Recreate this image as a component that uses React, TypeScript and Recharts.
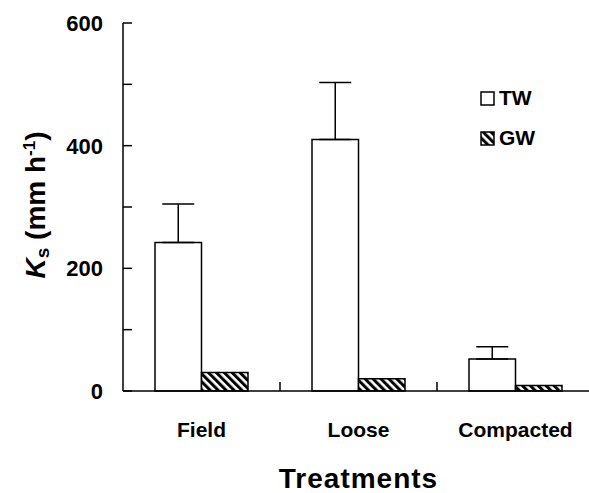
import { BarChart, Bar, XAxis, YAxis, ErrorBar, Label } from "recharts";

const categories = ["Field", "Loose", "Compacted"];
const twValues = [242, 410, 52];
const twErrors = [63, 93, 20];
const gwValues = [30, 20, 9];
const yTicks = [0, 100, 200, 300, 400, 500, 600];
const yLabelled = [0, 200, 400, 600];
const legendItems = [
  { label: "TW", fill: "#fff" },
  { label: "GW", fill: "url(#hatch)" },
];

const data = categories.map((name, i) => ({
  name,
  tw: twValues[i],
  twErr: [0, twErrors[i]],
  gw: gwValues[i],
}));

const FONT = "'Liberation Sans', Arial, sans-serif";

function XTick(props: any) {
  const { x, y, payload, index } = props;
  const half = payload && payload.offset != null ? payload.offset : 78.5;
  return (
    <g>
      {index > 0 && (
        <line x1={x - half} x2={x - half} y1={y} y2={y - 9} stroke="#000" strokeWidth={1.5} />
      )}
      <text x={x} y={y + 46} textAnchor="middle" fontFamily={FONT} fontWeight="bold" fontSize={21} fill="#000">
        {payload.value}
      </text>
    </g>
  );
}

function YTick(props: any) {
  const { x, y, payload } = props;
  return (
    <g>
      <line x1={x} x2={x + 9} y1={y} y2={y} stroke="#000" strokeWidth={1.5} />
      {yLabelled.includes(payload.value) && (
        <text x={x - 20} y={y} dy="0.36em" textAnchor="end" fontFamily={FONT} fontWeight="bold" fontSize={22} fill="#000">
          {payload.value}
        </text>
      )}
    </g>
  );
}

function YTitle() {
  const cx = 35;
  const cy = 205;
  return (
    <text x={cx} y={cy} transform={`rotate(-90, ${cx}, ${cy})`} textAnchor="middle" dy="0.36em"
      fontFamily={FONT} fontWeight="bold" fontSize={28} fill="#000">
      <tspan fontStyle="italic">K</tspan>
      <tspan fontSize={19} dy={4}>s</tspan>
      <tspan dy={-4}> (mm h</tspan>
      <tspan fontSize={17} dy={-10}>-1</tspan>
      <tspan dy={10}>)</tspan>
    </text>
  );
}

function XTitle(props: any) {
  const { viewBox } = props;
  return (
    <text x={viewBox.x + viewBox.width / 2} y={viewBox.y + 97} textAnchor="middle"
      fontFamily={FONT} fontWeight="bold" fontSize={28} letterSpacing={1} fill="#000">
      Treatments
    </text>
  );
}

function LegendBox() {
  return (
    <div style={{ position: "absolute", left: 480, top: 78 }}>
      {legendItems.map((it) => (
        <div key={it.label} style={{ display: "flex", alignItems: "center", height: 40 }}>
          <svg width={15} height={15} style={{ marginRight: 4 }}>
            <rect x={1} y={1} width={13} height={13} fill={it.fill} stroke="#000" strokeWidth={1.5} />
          </svg>
          <span style={{ fontFamily: FONT, fontWeight: "bold", fontSize: 21, color: "#000" }}>{it.label}</span>
        </div>
      ))}
    </div>
  );
}

export default function App() {
  return (
    <div style={{ position: "absolute", left: 0, top: 0, width: 589, height: 493, overflow: "hidden", background: "#fff" }}>
      <BarChart width={594} height={493} data={data} margin={{ top: 23, right: 0, bottom: 0, left: 0 }}
        barGap={0} barSize={46.5}>
        <defs>
          <pattern id="hatch" patternUnits="userSpaceOnUse" width={5.6} height={5.6} patternTransform="rotate(-45)">
            <rect x={0} y={0} width={5.6} height={5.6} fill="#fff" />
            <rect x={0} y={0} width={3} height={5.6} fill="#000" />
          </pattern>
        </defs>
        <XAxis dataKey="name" height={102} axisLine={{ stroke: "#000", strokeWidth: 1.5 }} tickLine={false}
          tickSize={0} tickMargin={0} tick={<XTick />} interval={0}>
          <Label content={<XTitle />} />
        </XAxis>
        <YAxis width={123} domain={[0, 600]} ticks={yTicks} interval={0} axisLine={{ stroke: "#000", strokeWidth: 1.5 }}
          tickLine={false} tickSize={0} tickMargin={0} tick={<YTick />}>
          <Label content={<YTitle />} />
        </YAxis>
        <Bar dataKey="tw" name="TW" fill="#fff" stroke="#000" strokeWidth={1.5} isAnimationActive={false}>
          <ErrorBar dataKey="twErr" width={16} stroke="#000" strokeWidth={1.5} direction="y" isAnimationActive={false} />
        </Bar>
        <Bar dataKey="gw" name="GW" fill="url(#hatch)" stroke="#000" strokeWidth={1.5} isAnimationActive={false} />
      </BarChart>
      <LegendBox />
    </div>
  );
}
